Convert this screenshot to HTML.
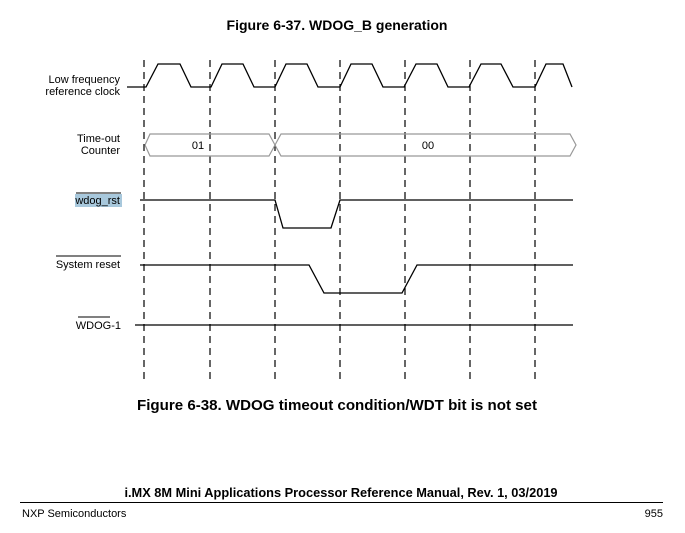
<!DOCTYPE html>
<html><head><meta charset="utf-8"><style>
body{margin:0;background:#fff;}
svg{display:block;font-family:"Liberation Sans",Arial,sans-serif;}
</style></head><body>
<svg width="685" height="533" viewBox="0 0 685 533" xmlns="http://www.w3.org/2000/svg">
<text x="337" y="30" font-size="14" font-weight="bold" text-anchor="middle">Figure 6-37. WDOG_B generation</text>
<g stroke="#000" stroke-width="1.2" stroke-dasharray="7,5">
<line x1="144" y1="60" x2="144" y2="380"/><line x1="210" y1="60" x2="210" y2="380"/>
<line x1="275" y1="60" x2="275" y2="380"/><line x1="340" y1="60" x2="340" y2="380"/>
<line x1="405" y1="60" x2="405" y2="380"/><line x1="470" y1="60" x2="470" y2="380"/>
<line x1="535" y1="60" x2="535" y2="380"/>
</g>
<g font-size="11" fill="#000" text-anchor="end">
<text x="120" y="83">Low frequency</text><text x="120" y="95">reference clock</text>
<text x="120" y="142">Time-out</text><text x="120" y="154">Counter</text>
<rect x="75" y="194" width="47" height="13" fill="#a8c8dc"/>
<text x="120" y="204">wdog_rst</text><line x1="76" y1="193" x2="121" y2="193" stroke="#000"/>
<text x="120" y="268">System reset</text><line x1="56" y1="256" x2="121" y2="256" stroke="#000"/>
<text x="121" y="329">WDOG-1</text><line x1="78" y1="317" x2="110" y2="317" stroke="#000"/>
</g>
<polyline fill="none" stroke="#000" stroke-width="1.3" points="127,87 146,87 158,64 180,64 191,87 211,87 222,64 243,64 254,87 275,87 286,64 307,64 318,87 340,87 351,64 372,64 383,87 404,87 416,64 437,64 448,87 469,87 481,64 501,64 513,87 535,87 546,64 563,64 572,87"/>
<g fill="none" stroke="#999" stroke-width="1.2">
<polyline points="275,145 269,134 150,134 145,145 150,156 269,156 275,145 281,134 570,134 576,145 570,156 281,156 275,145"/>
</g>
<text x="198" y="149" font-size="11" text-anchor="middle">01</text>
<text x="428" y="149" font-size="11" text-anchor="middle">00</text>
<polyline fill="none" stroke="#000" stroke-width="1.3" points="140,200 275,200 283,228 331,228 340,200 573,200"/>
<polyline fill="none" stroke="#000" stroke-width="1.3" points="140,265 309,265 324,293 402,293 417,265 573,265"/>
<line x1="135" y1="325" x2="573" y2="325" stroke="#000" stroke-width="1.3"/>
<text x="337" y="410" font-size="15.1" font-weight="bold" text-anchor="middle">Figure 6-38. WDOG timeout condition/WDT bit is not set</text>
<text x="341" y="497" font-size="12.8" font-weight="bold" text-anchor="middle">i.MX 8M Mini Applications Processor Reference Manual, Rev. 1, 03/2019</text>
<line x1="20" y1="502.5" x2="663" y2="502.5" stroke="#000" stroke-width="1"/>
<text x="22" y="517" font-size="11">NXP Semiconductors</text>
<text x="663" y="517" font-size="11" text-anchor="end">955</text>
</svg>
</body></html>
